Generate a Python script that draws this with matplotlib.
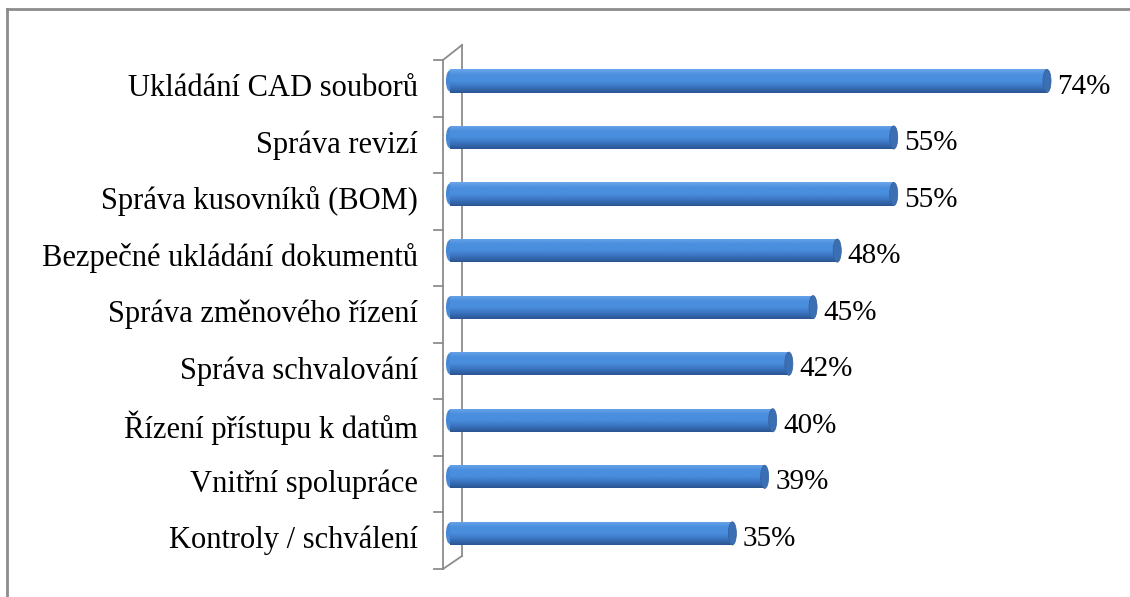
import numpy as np
import matplotlib.pyplot as plt
from matplotlib.patches import Ellipse
from matplotlib.lines import Line2D
from matplotlib.colors import LinearSegmentedColormap

# data #
categories = ['Ukládání CAD souborů', 'Správa revizí', 'Správa kusovníků (BOM)',
              'Bezpečné ukládání dokumentů', 'Správa změnového řízení',
              'Správa schvalování', 'Řízení přístupu k datům',
              'Vnitřní spolupráce', 'Kontroly / schválení']
values = [74, 55, 55, 48, 45, 42, 40, 39, 35]
labels = ['74%', '55%', '55%', '48%', '45%', '42%', '40%', '39%', '35%']

plt.rcParams['font.family'] = ['Liberation Serif', 'DejaVu Serif']

W, H = 1130, 597
fig = plt.figure(figsize=(W / 100, H / 100), dpi=100)

# plot area in pixels: x 0% at 450, y from 60 (top) to 569 (bottom)
x0, x1 = 450, 1130
y_top, y_bot = 60, 569
ax = fig.add_axes([x0 / W, 1 - y_bot / H, (x1 - x0) / W, (y_bot - y_top) / H])
px_per_pct = (1047 - 450) / 74.0
n = len(categories)
ax.set_ylim(n - 0.5, -0.5)
ax.axis('off')

# bars sit a bit above the slot centre (3D perspective)
pos = np.arange(n) - 0.13
bh = 0.41
grad = np.linspace(0, 1, 64).reshape(-1, 1)
cmap = LinearSegmentedColormap.from_list('cyl', ['#6aa6ea', '#4a8ede', '#4a8ede', '#3a73bf', '#2a5591'])

bars = ax.barh(pos, values, height=bh, color='#4a8ede', zorder=2)
for b, v, p, lab in zip(bars, values, pos, labels):
    im = ax.imshow(grad, extent=[0, v, p + bh / 2, p - bh / 2], aspect='auto',
                   cmap=cmap, zorder=3)
    im.set_clip_path(b)
    ax.add_patch(Ellipse((v, p), 1.0, bh, facecolor='#3b6fb3', edgecolor='#355f99',
                         lw=0.5, zorder=4))
    ax.add_patch(Ellipse((0, p), 1.0, bh * 0.92, facecolor='#4687d6', edgecolor='none',
                         zorder=1, clip_on=False))
    ax.text(v + 1.3, p + 0.1, lab, va='center', ha='left', fontsize=21, color='black')

ax.set_xlim(0, (x1 - x0) / px_per_pct)

# category labels
for k, c in enumerate(categories):
    fig.text(418 / W, 1 - (y_top + (k + 0.5) * (y_bot - y_top) / n) / H, c,
             ha='right', va='center', fontsize=22)

# 3D wall and outer frame (drawn behind the bars)
gray = '#8c8c8c'
def fl(xs, ys, **kw):
    fig.add_artist(Line2D([x / W for x in xs], [1 - y / H for y in ys], color=gray,
                          zorder=-1, **kw))

fl([443, 443], [60, 569], lw=1.3)
fl([462, 462], [45, 556], lw=1.3)
fl([443, 462], [60, 45], lw=1.3)
fl([443, 462], [569, 556], lw=1.3)
for k in range(n + 1):
    y = y_top + k * (y_bot - y_top) / n
    fl([434, 443], [y, y], lw=1.3)

fl([7, 7], [9, 597], lw=2)
fl([7, 1130], [9, 9], lw=2)

plt.savefig('out.png', dpi=100)
